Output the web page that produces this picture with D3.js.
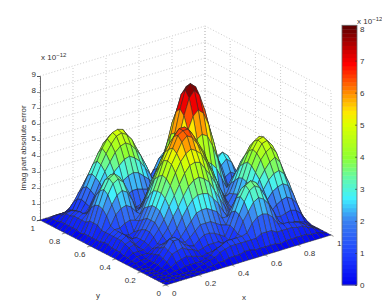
<!DOCTYPE html>
<html>
<head>
<meta charset="utf-8">
<script src="https://cdn.jsdelivr.net/npm/d3@7"></script>
<style>
  html, body { margin: 0; padding: 0; background: #fff; }
  svg { display: block; }
  text { font-family: "Liberation Sans", Arial, sans-serif; font-size: 8px; fill: #333; }
</style>
</head>
<body>
<svg id="chart" width="382" height="304"></svg>
<script>
const xTicks = [0, 0.2, 0.4, 0.6, 0.8, 1];
const yTicks = [0, 0.2, 0.4, 0.6, 0.8, 1];
const zTicks = [0, 1, 2, 3, 4, 5, 6, 7, 8, 9];
const colorbarTicks = [0, 1, 2, 3, 4, 5, 6, 7, 8];
const colorValues = [0, 0.9, 2, 2.7, 3.3, 4, 5, 5.4, 6, 6.9, 7.3, 8.1];
const colorStops = ['#0000f0', '#1c3cff', '#3a80f0', '#40f0ff', '#60f8b0', '#90ff30', '#dcff00', '#ffe800', '#ff8c00', '#ff0000', '#d00000', '#5a0000'];

// surface in units of 1e-12, it is mirrored across x = y so
// only the half with i <= j is kept, row j holds columns 0..j
const zRows = [
  [0],
  [0,0],
  [0,0,0],
  [0,0,0,0],
  [0,0,0,.1,.2],
  [0,0,0,.1,.4,.8],
  [0,0,0,.2,.5,.9,1.4],
  [0,0,0,.2,.6,1.0,1.4,1.4],
  [0,0,.1,.2,.5,.8,1.0,1.0,.8],
  [0,.1,.2,.2,.4,.7,.8,.9,1.1,1.5],
  [0,.1,.3,.3,.3,.5,.7,1.1,1.5,2.1,2.6],
  [0,.2,.4,.4,.4,.6,1.0,1.4,1.9,2.6,3.2,3.8],
  [0,.2,.6,.7,.4,.7,1.2,1.7,2.3,3.0,3.7,4.4,5.0],
  [0,.3,.7,.8,.5,.7,1.2,1.7,2.4,3.2,4.0,4.8,5.4,6.0],
  [0,.3,.8,1.0,.7,.7,1.1,1.7,2.4,3.2,4.1,4.9,5.6,6.3,6.5],
  [0,.3,.8,1.0,.7,.5,.9,1.5,2.2,3.1,3.9,4.8,5.4,6.1,6.5,6.5],
  [0,.4,.8,1.0,.7,.6,.7,1.3,2.0,2.7,3.6,4.3,5.1,5.6,6.0,6.2,6.0],
  [0,.4,.8,1.0,1.0,1.2,1.3,1.2,1.5,2.3,3.0,3.8,4.5,5.0,5.4,5.6,5.4,5.0],
  [0,.3,.8,1.1,1.7,2.0,2.1,1.9,1.5,1.7,2.4,3.2,3.8,4.3,4.8,4.9,4.8,4.4,5.6],
  [0,.3,.8,1.6,2.2,2.7,2.9,2.7,2.1,1.2,1.8,2.4,3.1,3.6,3.9,4.1,4.0,5.1,6.4,7.4],
  [0,.3,1.0,1.9,2.7,3.3,3.5,3.2,2.5,1.5,1.2,1.7,2.3,2.7,3.1,3.2,3.7,5.3,6.7,7.8,8.1],
  [0,.3,1.0,2.0,2.9,3.5,3.7,3.4,2.6,1.6,.7,1.1,1.5,2.0,2.2,2.4,3.5,5.1,6.4,7.4,7.8,7.4],
  [0,.3,1.0,1.9,2.7,3.3,3.5,3.2,2.5,1.5,1.0,1.0,1.1,1.3,1.5,1.7,3.1,4.4,5.6,6.4,6.7,6.4,5.6],
  [0,.2,.8,1.6,2.3,2.7,2.9,2.7,2.1,1.5,1.7,1.9,1.9,1.8,1.7,1.4,2.4,3.5,4.4,5.1,5.3,5.1,4.4,3.5],
  [0,.3,.8,1.1,1.7,2.0,2.1,1.9,1.9,2.2,2.5,2.7,2.8,2.7,2.4,2.1,1.7,2.4,3.1,3.5,3.7,3.5,3.1,2.4,1.7],
  [0,.3,.8,1.0,1.0,1.2,1.4,2.0,2.5,3.0,3.3,3.6,3.7,3.5,3.2,2.7,2.2,1.5,1.7,1.9,2.0,2.0,1.8,1.3,.9,.5],
  [0,.3,.8,1.0,.7,1.1,1.7,2.4,3.0,3.5,4.0,4.3,4.4,4.2,3.8,3.3,2.6,1.8,1.1,1.8,2.4,2.7,2.4,1.8,1.0,.3,.4],
  [0,.3,.7,.9,.7,1.2,1.9,2.6,3.3,3.9,4.4,4.8,4.9,4.7,4.3,3.6,2.9,2.0,1.2,2.0,2.7,3.0,2.7,2.0,1.1,.3,.6,1.1],
  [0,.3,.7,.8,.7,1.3,2.0,2.7,3.4,4.1,4.6,4.9,5.0,4.9,4.4,3.8,3.0,2.1,1.3,1.8,2.4,2.7,2.4,1.8,1.0,.3,.8,1.3,1.5],
  [0,.2,.5,.6,.6,1.2,1.8,2.5,3.1,3.7,4.2,4.5,4.6,4.5,4.1,3.5,2.7,1.9,1.2,1.2,1.7,1.9,1.7,1.2,.7,.2,.6,1.0,1.2,1.0],
  [0,.2,.4,.4,.5,.9,1.4,1.9,2.4,2.8,3.2,3.4,3.5,3.4,3.1,2.6,2.1,1.4,.9,.6,.8,.8,.8,.6,.3,.1,.3,.5,.6,.5,.3],
  [0,.1,.2,.2,.2,.4,.6,.9,1.1,1.3,1.5,1.6,1.6,1.6,1.4,1.2,1.0,.7,.4,.2,.1,.1,.1,.1,.1,0,.1,.1,.1,.1,.1,0],
  [0,0,0,0,0,0,0,0,0,0,0,0,0,0,0,0,0,0,0,0,0,0,0,0,0,0,0,0,0,0,0,0,0]
];

const CELLS = zRows.length - 1;
const zAt = (i, j) => (i <= j ? zRows[j][i] : zRows[i][j]);

const svg = d3.select('#chart');

// projection, built from linear scales per axis
const ORIGIN = [166, 285];
const xToPx = d3.scaleLinear().domain([0, 1]).range([0, 165]);
const xToPy = d3.scaleLinear().domain([0, 1]).range([0, -50]);
const yToPx = d3.scaleLinear().domain([0, 1]).range([0, -126]);
const yToPy = d3.scaleLinear().domain([0, 1]).range([0, -65]);
const zToPy = d3.scaleLinear().domain([0, 9]).range([0, -144]);

const project = (x, y, z) => [
  ORIGIN[0] + xToPx(x) + yToPx(y),
  ORIGIN[1] + xToPy(x) + yToPy(y) + zToPy(z)
];

const colorInterp = d3.scaleLinear().domain(colorValues).range(colorStops);
const levelCount = 64;
const zMax = colorValues[colorValues.length - 1];
const levels = d3.range(levelCount).map(k => colorInterp((k + 0.5) / levelCount * zMax));
const colorScale = d3.scaleQuantize().domain([0, zMax]).range(levels);

const line = d3.line();

// Back walls and floor, dotted
const gridG = svg.append('g')
  .attr('fill', 'none')
  .attr('stroke', '#b4b4b4')
  .attr('stroke-width', 0.7)
  .attr('stroke-dasharray', '1,2');

const gridSegments = [];
zTicks.forEach(z => {
  gridSegments.push([project(0, 1, z), project(1, 1, z)]);
  gridSegments.push([project(1, 1, z), project(1, 0, z)]);
});
xTicks.forEach(x => {
  gridSegments.push([project(x, 1, 0), project(x, 1, 9)]);
  gridSegments.push([project(x, 0, 0), project(x, 1, 0)]);
});
yTicks.forEach(y => {
  gridSegments.push([project(1, y, 0), project(1, y, 9)]);
  gridSegments.push([project(0, y, 0), project(1, y, 0)]);
});
gridG.selectAll('path').data(gridSegments).join('path').attr('d', d => line(d));

// Surface cells, painted back to front
const cells = [];
for (let j = CELLS - 1; j >= 0; j--) {
  for (let i = CELLS - 1; i >= 0; i--) {
    const corners = [[i, j], [i + 1, j], [i + 1, j + 1], [i, j + 1]];
    const zs = corners.map(c => zAt(c[0], c[1]));
    cells.push({
      mean: d3.mean(zs),
      points: corners.map((c, k) => project(c[0] / CELLS, c[1] / CELLS, zs[k]))
    });
  }
}

svg.append('g')
  .selectAll('path')
  .data(cells)
  .join('path')
  .attr('d', d => line(d.points) + 'Z')
  .attr('fill', d => colorScale(d.mean))
  .attr('stroke', '#2c2c2c')
  .attr('stroke-opacity', 0.85)
  .attr('stroke-width', 0.6)
  .attr('stroke-linejoin', 'round');

// z axis on the left corner
const zAxisScale = d3.scaleLinear()
  .domain([0, 9])
  .range([project(0, 1, 0)[1], project(0, 1, 9)[1]]);

const zAxis = svg.append('g')
  .attr('transform', `translate(${project(0, 1, 0)[0]},0)`)
  .call(d3.axisLeft(zAxisScale).tickValues(zTicks).tickFormat(d3.format('d')).tickSize(3).tickPadding(1));
zAxis.select('.domain').attr('stroke', '#444').attr('stroke-width', 0.8);
zAxis.selectAll('.tick line').attr('stroke', '#444').attr('stroke-width', 0.6);
zAxis.selectAll('text').attr('font-size', 8).attr('font-family', null).attr('dy', '0.02em');

// floor edges carry the x and y ticks
const tickG = svg.append('g').attr('stroke', '#444').attr('stroke-width', 0.6);
xTicks.forEach(x => {
  const a = project(x, 0, 0);
  const b = project(x, -0.02, 0);
  tickG.append('line').attr('x1', a[0]).attr('y1', a[1]).attr('x2', b[0]).attr('y2', b[1]);
});
yTicks.forEach(y => {
  const a = project(0, y, 0);
  const b = project(-0.02, y, 0);
  tickG.append('line').attr('x1', a[0]).attr('y1', a[1]).attr('x2', b[0]).attr('y2', b[1]);
});

// x labels hang from their left end, y labels from their right end
xTicks.forEach(x => {
  const p = project(x, 0, 0);
  svg.append('text').attr('x', p[0] + 6).attr('y', p[1] + 11).text(x);
});
yTicks.forEach(y => {
  const p = project(0, y, 0);
  svg.append('text').attr('x', p[0] - 5).attr('y', p[1] + 10.5).attr('text-anchor', 'end').text(y);
});

svg.append('text').attr('x', 244).attr('y', 300).attr('text-anchor', 'middle').text('x');
svg.append('text').attr('x', 98).attr('y', 298).attr('text-anchor', 'middle').text('y');
svg.append('text')
  .attr('transform', 'translate(26,148) rotate(-90)')
  .attr('text-anchor', 'middle')
  .text('Imag part absolute error');

const addExponent = (x, y) => {
  const t = svg.append('text').attr('x', x).attr('y', y);
  t.append('tspan').text('x 10');
  t.append('tspan').attr('dy', -3).attr('font-size', 6).text('\u221212');
};
addExponent(41, 60);
addExponent(357, 24);

// Colorbar
const BAR_X = 342;
const BAR_W = 15;
const barScale = d3.scaleLinear().domain([0, 8]).range([285, 28.5]);
const barTop = barScale(zMax);

svg.append('g')
  .selectAll('rect')
  .data(levels)
  .join('rect')
  .attr('x', BAR_X)
  .attr('width', BAR_W)
  .attr('y', (d, k) => barScale((k + 1) / levelCount * zMax))
  .attr('height', (barScale(0) - barTop) / levelCount + 0.4)
  .attr('fill', d => d);

svg.append('rect')
  .attr('x', BAR_X)
  .attr('y', barTop)
  .attr('width', BAR_W)
  .attr('height', barScale(0) - barTop)
  .attr('fill', 'none')
  .attr('stroke', '#666')
  .attr('stroke-width', 0.8);

const barAxis = svg.append('g')
  .attr('transform', `translate(${BAR_X + BAR_W},0)`)
  .call(d3.axisRight(barScale).tickValues(colorbarTicks).tickFormat(d3.format('d')).tickSize(-2).tickPadding(3));
barAxis.select('.domain').remove();
barAxis.selectAll('.tick line').attr('stroke', '#333').attr('stroke-width', 0.6);
barAxis.selectAll('text').attr('font-size', 8).attr('font-family', null);
</script>
</body>
</html>
